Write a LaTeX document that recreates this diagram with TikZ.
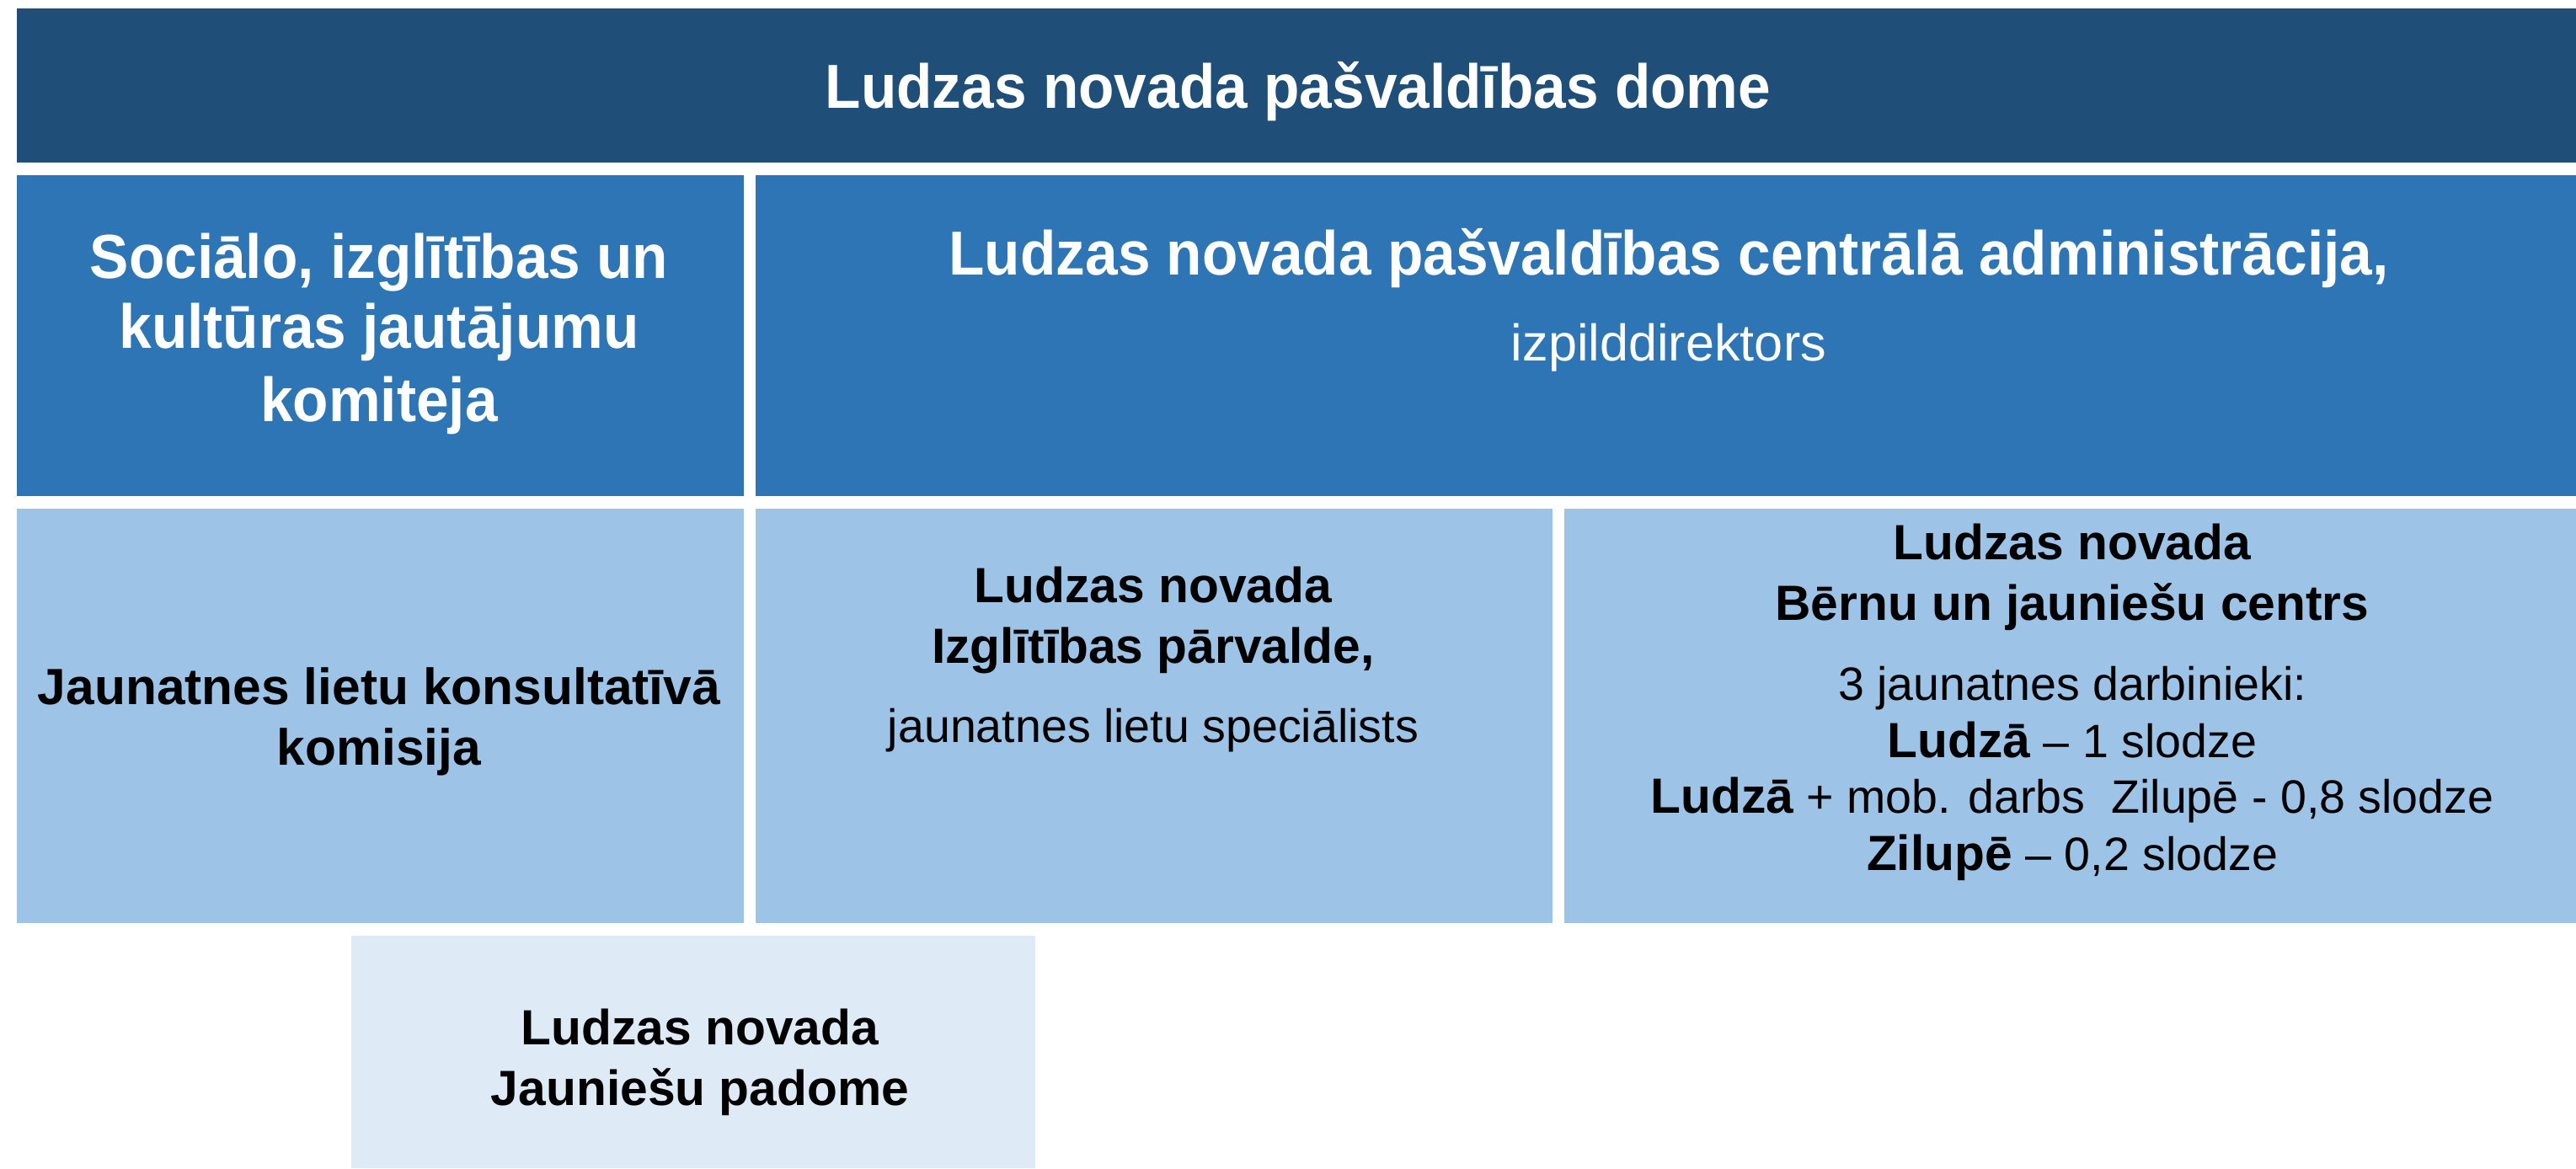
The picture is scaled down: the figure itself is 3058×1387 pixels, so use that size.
\documentclass[tikz,border=0pt]{standalone}
\usepackage{fontspec}
\setmainfont{Liberation Sans}
\newfontfamily\bigfont[FakeStretch=0.94]{Liberation Sans}
\definecolor{cdark}{HTML}{1F4E79}
\definecolor{cmid}{HTML}{2E75B6}
\definecolor{clight}{HTML}{9DC3E6}
\definecolor{cpale}{HTML}{DEEBF7}
\tikzset{
  box/.style={rectangle, inner sep=0pt, outer sep=0pt, anchor=north west, draw=none},
  bigtxt/.style={anchor=base, inner sep=0pt, text=white, font=\bigfont\bfseries\fontsize{21}{25}\selectfont},
  smalltxt/.style={anchor=base, inner sep=0pt, text=black, font=\bfseries\fontsize{16.7}{20}\selectfont},
  regtxt/.style={anchor=base, inner sep=0pt, text=black, font=\fontsize{15.8}{19}\selectfont},
}
\begin{document}
\begin{tikzpicture}[x=0.01cm,y=-0.01cm]
\useasboundingbox (0,0) rectangle (3058,1387);
% boxes
\node[box, fill=cdark, minimum width=30.38cm, minimum height=1.83cm] (top) at (20,10) {};
\node[box, fill=cmid, minimum width=8.62cm, minimum height=3.81cm] (komit) at (20,208) {};
\node[box, fill=cmid, minimum width=21.61cm, minimum height=3.81cm] (admin) at (897,208) {};
\node[box, fill=clight, minimum width=8.62cm, minimum height=4.92cm] (komis) at (20,604) {};
\node[box, fill=clight, minimum width=9.45cm, minimum height=4.92cm] (izgl) at (897,604) {};
\node[box, fill=clight, minimum width=12.01cm, minimum height=4.92cm] (bjc) at (1857,604) {};
\node[box, fill=cpale, minimum width=8.12cm, minimum height=2.76cm] (padome) at (417,1111) {};
% texts
\node[bigtxt] (t0) at (1541,128) {Ludzas novada pašvaldības dome};
\node[bigtxt] (t1a) at (450,330) {Sociālo, izglītības un};
\node[bigtxt] (t1b) at (450,413) {kultūras jautājumu};
\node[bigtxt] (t1c) at (450,500) {komiteja};
\node[bigtxt] (t2a) at (1981,326) {Ludzas novada pašvaldības centrālā administrācija,};
\node[regtxt, text=white, font=\fontsize{17.4}{21}\selectfont] (t2b) at (1981,428) {izpilddirektors};
\node[smalltxt, font=\bfseries\fontsize{17.2}{21}\selectfont] (t3a) at (450,836) {Jaunatnes lietu konsultatīvā};
\node[smalltxt, font=\bfseries\fontsize{17.2}{21}\selectfont] (t3b) at (450,908) {komisija};
\node[smalltxt] (t4a) at (1369,715) {Ludzas novada};
\node[smalltxt] (t4b) at (1369,787) {Izglītības pārvalde,};
\node[regtxt] (t4c) at (1369,881) {jaunatnes lietu speciālists};
\node[smalltxt] (t5a) at (2460,664) {Ludzas novada};
\node[smalltxt] (t5b) at (2460,736) {Bērnu un jauniešu centrs};
\node[regtxt] (t5c) at (2460,831) {3 jaunatnes darbinieki:};
\node[regtxt] (t5d) at (2460,899) {{\bfseries\fontsize{16.7}{20}\selectfont Ludzā} – 1 slodze};
\node[regtxt] (t5e) at (2460,965) {{\bfseries\fontsize{16.7}{20}\selectfont Ludzā} + mob. darbs\ \ Zilupē - 0,8 slodze};
\node[regtxt] (t5f) at (2460,1033) {{\bfseries\fontsize{16.7}{20}\selectfont Zilupē} – 0,2 slodze};
\node[smalltxt] (t6a) at (831,1240) {Ludzas novada};
\node[smalltxt] (t6b) at (831,1312) {Jauniešu padome};
\end{tikzpicture}
\end{document}
